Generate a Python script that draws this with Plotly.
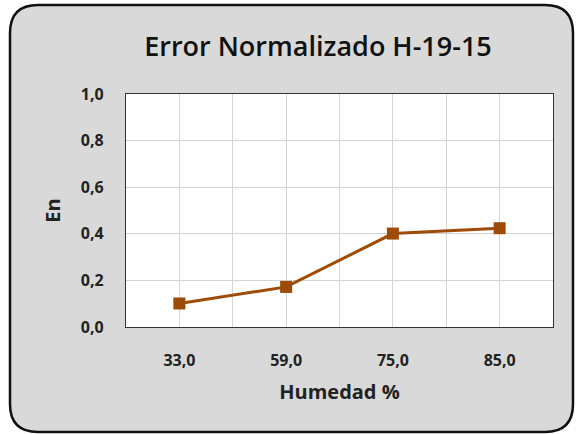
import plotly.graph_objects as go

categories = ["33,0", "59,0", "75,0", "85,0"]
en_values = [0.101, 0.172, 0.401, 0.424]
y_ticks = [0.0, 0.2, 0.4, 0.6, 0.8, 1.0]

W, H = 576, 434
L, R, T, B = 126, 23, 94, 107
pw, ph = W - L - R, H - T - B

def px_x(p):
    return (p - L) / pw

def px_y(p):
    return 1 - (p - T) / ph

x_pos = list(range(len(categories)))

fig = go.Figure()
fig.add_trace(go.Scatter(
    x=x_pos, y=en_values, mode="lines+markers",
    line=dict(color="#9E4B08", width=3),
    marker=dict(symbol="square", size=12, color="#9E4B08"),
    showlegend=False,
))

# rounded chart frame
x0, x1 = px_x(10), px_x(573)
y0, y1 = px_y(432), px_y(5)
rx = 28 / pw
ry = 28 / ph
path = (f"M {x0+rx},{y1} L {x1-rx},{y1} Q {x1},{y1} {x1},{y1-ry} "
        f"L {x1},{y0+ry} Q {x1},{y0} {x1-rx},{y0} L {x0+rx},{y0} "
        f"Q {x0},{y0} {x0},{y0+ry} L {x0},{y1-ry} Q {x0},{y1} {x0+rx},{y1} Z")
fig.add_shape(type="path", path=path, xref="paper", yref="paper",
              fillcolor="#D9D9D9", line=dict(color="#111111", width=2.5), layer="below")
fig.add_shape(type="rect", x0=0, x1=1, y0=0, y1=1, xref="paper", yref="paper",
              fillcolor="white", line=dict(width=0), layer="below")

font_family = "Open Sans"
fig.update_layout(
    width=W, height=H,
    margin=dict(l=L, r=R, t=T, b=B),
    paper_bgcolor="white", plot_bgcolor="white",
    separators=",.",
    title=dict(text="Error Normalizado H-19-15", x=318 / W, xanchor="center",
               y=1 - 47 / H, yanchor="middle",
               font=dict(family=font_family, size=27, color="#111111", weight=600)),
    xaxis=dict(
        range=[-0.5, len(categories) - 0.5],
        tickvals=x_pos, ticktext=categories,
        showgrid=True, gridcolor="#D4D4D4", gridwidth=1.3,
        minor=dict(dtick=0.5, tick0=-0.5, showgrid=True, gridcolor="#D4D4D4", gridwidth=1.3),
        showline=True, mirror=True, linecolor="#333333", linewidth=1.3,
        zeroline=False, ticks="", ticklabelstandoff=19,
        tickfont=dict(family=font_family, size=16, color="#222222", weight="bold"),
        title=dict(text="Humedad %", standoff=14,
                   font=dict(family=font_family, size=20, color="#222222", weight="bold")),
    ),
    yaxis=dict(
        range=[0, 1], tickvals=y_ticks, tickformat=".1f",
        showgrid=True, gridcolor="#D4D4D4", gridwidth=1.3,
        showline=True, mirror=True, linecolor="#333333", linewidth=1.3,
        zeroline=False, ticks="", ticklabelstandoff=18,
        tickfont=dict(family=font_family, size=16, color="#222222", weight="bold"),
        title=dict(text="En", standoff=14,
                   font=dict(family=font_family, size=20, color="#222222", weight="bold")),
    ),
)

fig.write_html("out.html", config={"displayModeBar": False},
               post_script="document.body.style.margin='0';")
